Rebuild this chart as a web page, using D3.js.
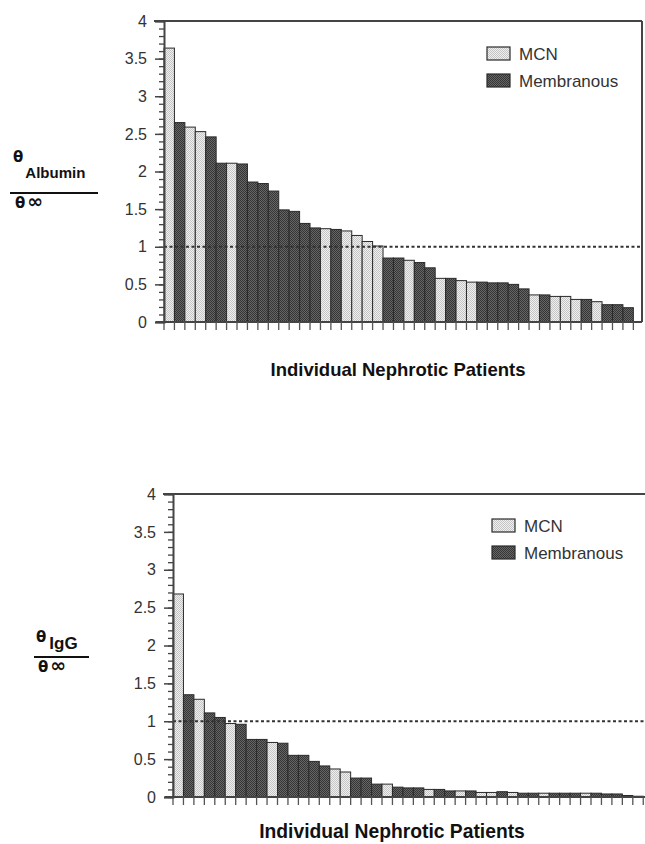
<!DOCTYPE html>
<html>
<head>
<meta charset="utf-8">
<script src="https://cdn.jsdelivr.net/npm/d3@7"></script>
<style>
  body { margin: 0; background: #fff; }
  svg { display: block; font-family: "Liberation Sans", Arial, sans-serif; }
</style>
</head>
<body>
<script>
// values, sorted as in the figure
var albumin = [3.64, 2.65, 2.59, 2.53, 2.46, 2.11, 2.11, 2.10, 1.86, 1.84, 1.74, 1.49, 1.47, 1.31, 1.25,
  1.24, 1.23, 1.21, 1.15, 1.07, 1.01, 0.85, 0.85, 0.82, 0.79, 0.72, 0.58, 0.58, 0.55, 0.53,
  0.53, 0.52, 0.52, 0.50, 0.44, 0.36, 0.36, 0.34, 0.34, 0.30, 0.30, 0.27, 0.23, 0.23, 0.19];
var albuminGroup = ["MCN", "Memb", "MCN", "MCN", "Memb", "Memb", "MCN", "Memb", "Memb", "Memb", "Memb", "Memb", "Memb", "Memb", "Memb",
  "MCN", "Memb", "MCN", "MCN", "MCN", "MCN", "Memb", "Memb", "MCN", "Memb", "Memb", "MCN", "Memb", "MCN", "MCN",
  "Memb", "Memb", "Memb", "Memb", "Memb", "MCN", "Memb", "MCN", "MCN", "MCN", "Memb", "MCN", "Memb", "Memb", "Memb"];

var igg = [2.68, 1.35, 1.29, 1.11, 1.05, 0.97, 0.96, 0.76, 0.76, 0.72, 0.71, 0.55, 0.55, 0.47, 0.41,
  0.37, 0.33, 0.25, 0.25, 0.17, 0.17, 0.13, 0.12, 0.12, 0.10, 0.10, 0.08, 0.08, 0.08, 0.06,
  0.06, 0.07, 0.06, 0.05, 0.05, 0.05, 0.05, 0.05, 0.05, 0.05, 0.05, 0.04, 0.04, 0.02, 0.01];
var iggGroup = ["MCN", "Memb", "MCN", "Memb", "Memb", "MCN", "Memb", "Memb", "Memb", "MCN", "Memb", "Memb", "Memb", "Memb", "Memb",
  "MCN", "MCN", "Memb", "Memb", "Memb", "MCN", "Memb", "Memb", "Memb", "MCN", "Memb", "Memb", "MCN", "Memb", "MCN",
  "MCN", "Memb", "MCN", "Memb", "Memb", "MCN", "Memb", "Memb", "Memb", "MCN", "Memb", "Memb", "Memb", "Memb", "Memb"];

var legendLabels = ["MCN", "Membranous"];
var yMajor = [0, 0.5, 1, 1.5, 2, 2.5, 3, 3.5, 4];
var refLine = 1;
var xTitle = "Individual Nephrotic Patients";

var W = 645, H = 844;
var svg = d3.select("body").append("svg").attr("width", W).attr("height", H);

// stipple textures for the two groups
var defs = svg.append("defs");
function stipple(id, a, b) {
  var p = defs.append("pattern").attr("id", id).attr("width", 2).attr("height", 2)
    .attr("patternUnits", "userSpaceOnUse");
  p.append("rect").attr("width", 2).attr("height", 2).attr("fill", a);
  p.append("rect").attr("width", 1).attr("height", 1).attr("fill", b);
  p.append("rect").attr("x", 1).attr("y", 1).attr("width", 1).attr("height", 1).attr("fill", b);
}
stipple("lightFill", "#f0f0f0", "#c4c4c4");
stipple("darkFill", "#666", "#353535");
var fill = { "MCN": "url(#lightFill)", "Memb": "url(#darkFill)" };

function panel(cfg) {
  var values = cfg.values, groups = cfg.groups;
  var g = svg.append("g");

  var x = d3.scaleBand().domain(d3.range(values.length))
    .range([cfg.left, cfg.left + values.length * cfg.bw]).padding(0);
  var y = d3.scaleLinear().domain([0, 4]).range([cfg.bottom, cfg.top]);

  // bars
  g.selectAll("rect.bar").data(values).enter().append("rect")
    .attr("class", "bar")
    .attr("x", function(d, i) { return x(i); })
    .attr("y", function(d) { return y(d); })
    .attr("width", x.bandwidth())
    .attr("height", function(d) { return y(0) - y(d); })
    .attr("fill", function(d, i) { return fill[groups[i]]; })
    .attr("stroke", "#2a2a2a").attr("stroke-width", 1);

  // dotted reference line at 1
  g.append("line")
    .attr("x1", cfg.left).attr("x2", cfg.right)
    .attr("y1", y(refLine)).attr("y2", y(refLine))
    .attr("stroke", "#333").attr("stroke-width", 2).attr("stroke-dasharray", "3,2.5");

  // frame
  g.append("line").attr("x1", cfg.left - 10).attr("x2", cfg.right)
    .attr("y1", y(4)).attr("y2", y(4)).attr("stroke", "#444").attr("stroke-width", 2);
  g.append("line").attr("x1", cfg.left - 8).attr("x2", cfg.right)
    .attr("y1", y(0)).attr("y2", y(0)).attr("stroke", "#444").attr("stroke-width", 2);
  if (cfg.rightBorder) {
    g.append("line").attr("x1", cfg.right).attr("x2", cfg.right)
      .attr("y1", y(4)).attr("y2", y(0)).attr("stroke", "#444").attr("stroke-width", 2);
  }

  // x ticks at every bar boundary
  var edges = d3.range(values.length + 1).map(function(i) { return cfg.left + i * cfg.bw; });
  g.selectAll("line.xt").data(edges).enter().append("line")
    .attr("x1", function(d) { return d; }).attr("x2", function(d) { return d; })
    .attr("y1", y(0)).attr("y2", y(0) + 8)
    .attr("stroke", "#555").attr("stroke-width", 1.3);

  // y axis, minor then major
  g.append("g").attr("transform", "translate(" + cfg.left + ",0)")
    .call(d3.axisLeft(y).tickValues(d3.range(0, 41).map(function(d) { return d / 10; }))
      .tickSize(5).tickFormat(""))
    .call(function(s) { s.select(".domain").remove(); })
    .selectAll("line").attr("stroke", "#444").attr("stroke-width", 1.3);
  var ya = g.append("g").attr("transform", "translate(" + cfg.left + ",0)")
    .call(d3.axisLeft(y).tickValues(yMajor).tickSize(9).tickPadding(8)
      .tickFormat(function(d) { return d; }));
  ya.select(".domain").attr("stroke", "#444").attr("stroke-width", 2);
  ya.selectAll("line").attr("stroke", "#444").attr("stroke-width", 1.5);
  ya.selectAll("text").attr("font-size", 16).attr("fill", "#333")
    .attr("font-family", "'Liberation Sans', Arial, sans-serif");

  // legend
  legendLabels.forEach(function(lab, i) {
    var ly = cfg.legendY + i * 27;
    g.append("rect").attr("x", cfg.legendX).attr("y", ly).attr("width", 23).attr("height", 13)
      .attr("fill", i === 0 ? fill.MCN : fill.Memb).attr("stroke", "#2a2a2a").attr("stroke-width", 1.2);
    g.append("text").attr("x", cfg.legendX + 32).attr("y", ly + 13)
      .attr("font-size", 17).attr("fill", "#333").text(lab);
  });

  // x title
  g.append("text").attr("x", cfg.titleX).attr("y", cfg.titleY)
    .attr("text-anchor", "middle").attr("font-weight", "bold")
    .attr("font-size", cfg.titleSize).attr("fill", "#111").text(xTitle);

  // y label as a fraction: theta_sub / theta_inf
  var f = cfg.frac;
  var num = g.append("text").attr("x", f.x).attr("y", f.y).attr("fill", "#111")
    .attr("font-weight", "bold").attr("font-family", "'DejaVu Sans', sans-serif");
  num.append("tspan").attr("font-size", 15).text("\u03b8");
  num.append("tspan").attr("font-size", f.subSize).attr("dx", f.subDx).attr("dy", f.subDy)
    .attr("font-family", "'Liberation Sans', Arial, sans-serif").text(f.sub);
  g.append("line").attr("x1", f.lx1).attr("x2", f.lx2).attr("y1", f.ly).attr("y2", f.ly)
    .attr("stroke", "#111").attr("stroke-width", 2);
  var den = g.append("text").attr("x", f.x + 2).attr("y", f.ly + 15).attr("fill", "#111")
    .attr("font-weight", "bold").attr("font-family", "'DejaVu Sans', sans-serif");
  den.append("tspan").attr("font-size", 15).text("\u03b8");
  den.append("tspan").attr("font-size", 19).attr("dx", 2).text("\u221e");
}

panel({
  values: albumin, groups: albuminGroup,
  left: 164, right: 642, top: 21, bottom: 322, bw: 10.43, rightBorder: true,
  legendX: 487, legendY: 47,
  titleX: 398, titleY: 376, titleSize: 18.5,
  frac: { x: 13, y: 162, sub: "Albumin", subSize: 15, subDx: 2, subDy: 16, lx1: 10, lx2: 98, ly: 193 }
});

panel({
  values: igg, groups: iggGroup,
  left: 173, right: 660, top: 494, bottom: 797, bw: 10.45, rightBorder: false,
  legendX: 492, legendY: 519,
  titleX: 392, titleY: 838, titleSize: 19.3,
  frac: { x: 36, y: 642, sub: "IgG", subSize: 17, subDx: 3, subDy: 7, lx1: 34, lx2: 89, ly: 657 }
});
</script>
</body>
</html>
